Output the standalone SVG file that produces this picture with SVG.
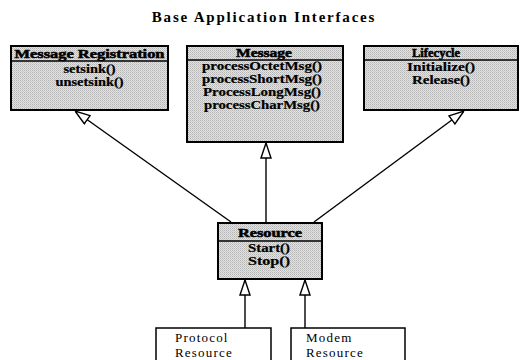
<svg xmlns="http://www.w3.org/2000/svg" width="526" height="360" viewBox="0 0 526 360">
  <style>
    .title { font-family: "Liberation Serif", serif; font-weight: bold; font-size: 15px; letter-spacing: 1.8px; fill: #000; }
    .box { fill: url(#stipple); stroke: #000; stroke-width: 2; }
    .plain { fill: #fff; stroke: #000; stroke-width: 1.5; }
    .div { stroke: #000; stroke-width: 1.5; }
    .hd { font-family: "Liberation Serif", serif; font-weight: bold; font-size: 12px; fill: #000; stroke: #000; stroke-width: 0.5; text-anchor: middle; }
    .op { font-family: "Liberation Serif", serif; font-weight: bold; font-size: 12px; fill: #000; stroke: #000; stroke-width: 0.2; text-anchor: middle; }
    .lbl { font-family: "Liberation Serif", serif; font-size: 13px; letter-spacing: 1.2px; fill: #000; }
    .edge { stroke: #000; stroke-width: 1.4; fill: none; marker-end: url(#hollow); }
  </style>
  <defs>
    <!-- dithered grey fill of the interface boxes -->
    <pattern id="stipple" width="2" height="2" patternUnits="userSpaceOnUse">
      <rect width="2" height="2" fill="#e2e2e2"/>
      <rect width="1" height="1" fill="#b4b4b4"/>
      <rect x="1" y="1" width="1" height="1" fill="#c8c8c8"/>
    </pattern>
    <!-- hollow triangle for generalization -->
    <marker id="hollow" viewBox="0 0 16 12" refX="16" refY="6" markerWidth="16" markerHeight="12" markerUnits="userSpaceOnUse" orient="auto">
      <path d="M1,1 L16,6 L1,11 Z" fill="#fff" stroke="#000" stroke-width="1.4"/>
    </marker>
  </defs>

  <text class="title" x="264" y="22" text-anchor="middle">Base Application Interfaces</text>

  <g id="connectors">
    <line class="edge" x1="231" y1="222" x2="75" y2="111"/>
    <line class="edge" x1="266" y1="222" x2="266" y2="143"/>
    <line class="edge" x1="314" y1="222" x2="464" y2="111"/>
    <line class="edge" x1="245" y1="328" x2="245" y2="280"/>
    <line class="edge" x1="305" y1="328" x2="305" y2="280"/>
  </g>

  <g id="message-registration">
    <rect class="box" x="11" y="46" width="157" height="64"/>
    <line class="div" x1="11" y1="61" x2="168" y2="61"/>
    <text class="hd" x="89.5" y="58" textLength="150" lengthAdjust="spacingAndGlyphs">Message Registration</text>
    <text class="op" x="89.5" y="73" textLength="52" lengthAdjust="spacingAndGlyphs">setsink()</text>
    <text class="op" x="89.5" y="86" textLength="68" lengthAdjust="spacingAndGlyphs">unsetsink()</text>
  </g>

  <g id="message">
    <rect class="box" x="187" y="46" width="156" height="96"/>
    <line class="div" x1="187" y1="60" x2="343" y2="60"/>
    <text class="hd" x="264" y="57" textLength="56" lengthAdjust="spacingAndGlyphs">Message</text>
    <text class="op" x="262" y="70" textLength="120" lengthAdjust="spacingAndGlyphs">processOctetMsg()</text>
    <text class="op" x="262" y="83" textLength="120" lengthAdjust="spacingAndGlyphs">processShortMsg()</text>
    <text class="op" x="262" y="96" textLength="118" lengthAdjust="spacingAndGlyphs">ProcessLongMsg()</text>
    <text class="op" x="262" y="109" textLength="116" lengthAdjust="spacingAndGlyphs">processCharMsg()</text>
  </g>

  <g id="lifecycle">
    <rect class="box" x="364" y="46" width="154" height="64"/>
    <line class="div" x1="364" y1="60" x2="518" y2="60"/>
    <text class="hd" x="436" y="57" textLength="48" lengthAdjust="spacingAndGlyphs">Lifecycle</text>
    <text class="op" x="441" y="71" textLength="68" lengthAdjust="spacingAndGlyphs">Initialize()</text>
    <text class="op" x="441" y="84" textLength="58" lengthAdjust="spacingAndGlyphs">Release()</text>
  </g>

  <g id="resource">
    <rect class="box" x="218" y="223" width="104" height="56"/>
    <line class="div" x1="218" y1="241" x2="322" y2="241"/>
    <text class="hd" x="270" y="237" textLength="64" lengthAdjust="spacingAndGlyphs">Resource</text>
    <text class="op" x="269" y="252" textLength="42" lengthAdjust="spacingAndGlyphs">Start()</text>
    <text class="op" x="269" y="265" textLength="42" lengthAdjust="spacingAndGlyphs">Stop()</text>
  </g>

  <g id="protocol-resource">
    <rect class="plain" x="156" y="328" width="115" height="40"/>
    <text class="lbl" x="175" y="342">Protocol</text>
    <text class="lbl" x="175" y="357">Resource</text>
  </g>

  <g id="modem-resource">
    <rect class="plain" x="291" y="328" width="114" height="40"/>
    <text class="lbl" x="306" y="342">Modem</text>
    <text class="lbl" x="306" y="357">Resource</text>
  </g>
</svg>
